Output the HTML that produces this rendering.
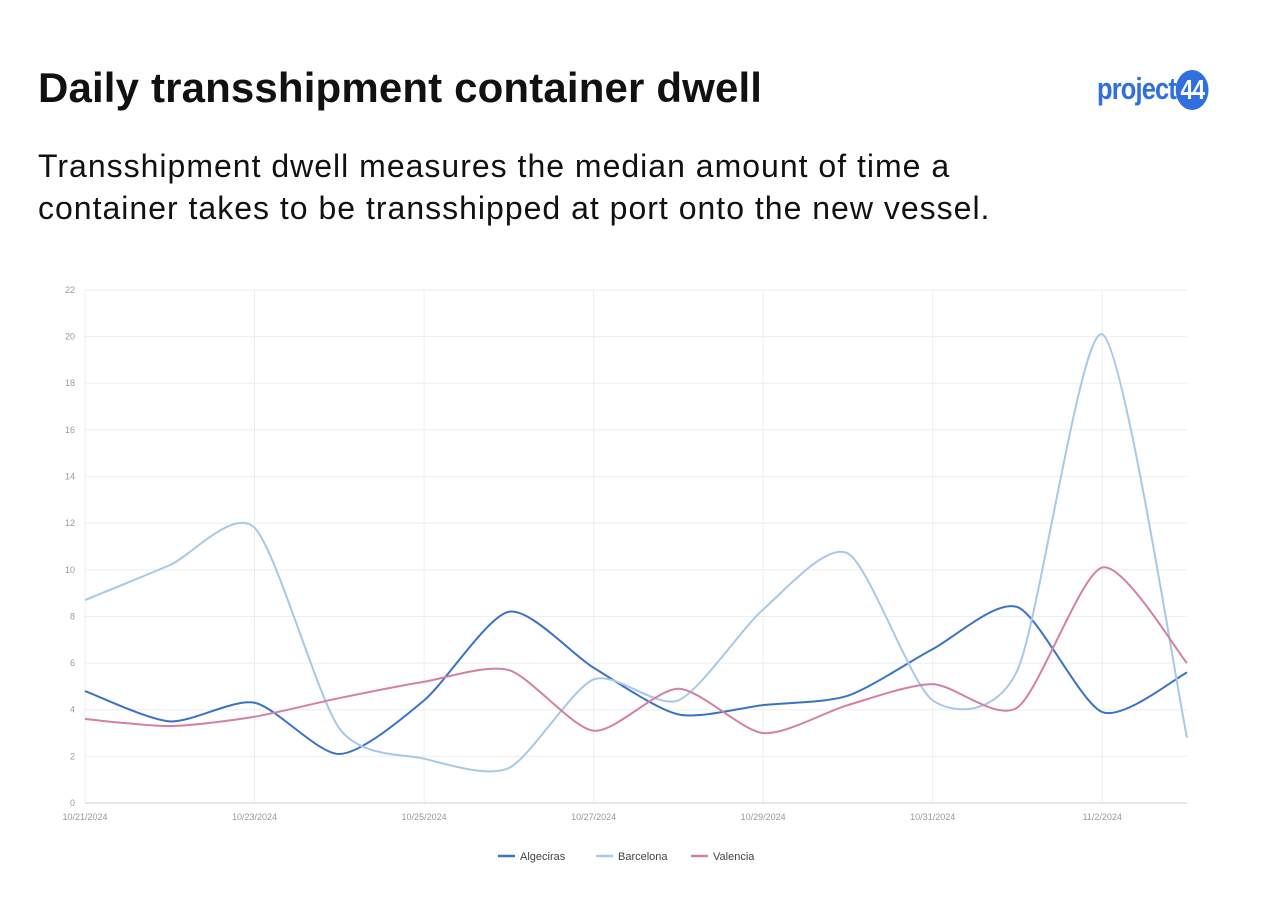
<!DOCTYPE html>
<html><head><meta charset="utf-8"><style>
body{margin:0;background:#fff;width:1285px;height:913px;overflow:hidden;font-family:"Liberation Sans",sans-serif}
h1{position:absolute;left:38px;top:64px;margin:0;font-size:42px;font-weight:bold;color:#111;letter-spacing:0.15px}
p{position:absolute;left:38px;top:145px;margin:0;font-size:32px;line-height:42px;color:#111;white-space:nowrap;letter-spacing:1px}
.logo{position:absolute;left:1097px;top:70px;font-size:31px;font-weight:bold;color:#2f6fde;letter-spacing:-1px;transform:scaleX(0.82);transform-origin:left}
.logo span{display:inline-block;background:#2f6fde;color:#fff;border-radius:50%;width:40px;height:40px;line-height:40px;text-align:center;font-size:28px}
</style></head><body>
<h1>Daily transshipment container dwell</h1>
<p>Transshipment dwell measures the median amount of time a<br>container takes to be transshipped at port onto the new vessel.</p>
<div class="logo">project<span>44</span></div>
<svg id="c" width="1285" height="913" style="position:absolute;left:0;top:0" font-family="Liberation Sans,sans-serif"></svg>
<script>
var s=document.getElementById('c'),h='';
var X=function(i){return 85+i*84.77},Y=function(v){return 803-v*23.32};
for(var v=0;v<=22;v+=2){h+='<line x1="85" x2="1187" y1="'+Y(v)+'" y2="'+Y(v)+'" stroke="#eee"/>';h+='<text x="75" y="'+(Y(v)+3)+'" font-size="9" fill="#999" text-anchor="end">'+v+'</text>';}
var lab=['10/21/2024','10/23/2024','10/25/2024','10/27/2024','10/29/2024','10/31/2024','11/2/2024'];
for(var i=0;i<7;i++){h+='<line x1="'+X(2*i)+'" x2="'+X(2*i)+'" y1="290" y2="803" stroke="#eee"/>';h+='<text x="'+X(2*i)+'" y="820" font-size="9" fill="#999" text-anchor="middle">'+lab[i]+'</text>';}
h+='<line x1="85" x2="1187" y1="803" y2="803" stroke="#ccc"/>';
var D=[[ '#3a73c6',[4.8,3.5,4.3,2.1,4.4,8.2,5.8,3.8,4.2,4.6,6.6,8.4,3.9,5.6]],
['#a8c8e8',[8.7,10.2,11.8,3.2,1.9,1.5,5.3,4.4,8.3,10.7,4.4,5.7,20.1,2.8]],
['#d47fa6',[3.6,3.3,3.7,4.5,5.2,5.7,3.1,4.9,3.0,4.2,5.1,4.1,10.1,6.0]]];
var T=8;
D.forEach(function(d){var p=d[1].map(function(v,i){return[X(i),Y(v)]});var a='M'+p[0];
for(var i=0;i<p.length-1;i++){var p0=p[i-1]||p[i],p1=p[i],p2=p[i+1],p3=p[i+2]||p2;
a+=' C'+(p1[0]+(p2[0]-p0[0])/T)+','+(p1[1]+(p2[1]-p0[1])/T)+' '+(p2[0]-(p3[0]-p1[0])/T)+','+(p2[1]-(p3[1]-p1[1])/T)+' '+p2;}
h+='<path d="'+a+'" fill="none" stroke="'+d[0]+'" stroke-width="2"/>';});
var L=[['Algeciras',498],['Barcelona',596],['Valencia',691]];
L.forEach(function(l,i){h+='<line x1="'+l[1]+'" x2="'+(l[1]+17)+'" y1="856" y2="856" stroke="'+D[i][0]+'" stroke-width="2.5"/><text x="'+(l[1]+22)+'" y="860" font-size="11" fill="#444">'+l[0]+'</text>';});
s.innerHTML=h;
</script>
</body></html>
